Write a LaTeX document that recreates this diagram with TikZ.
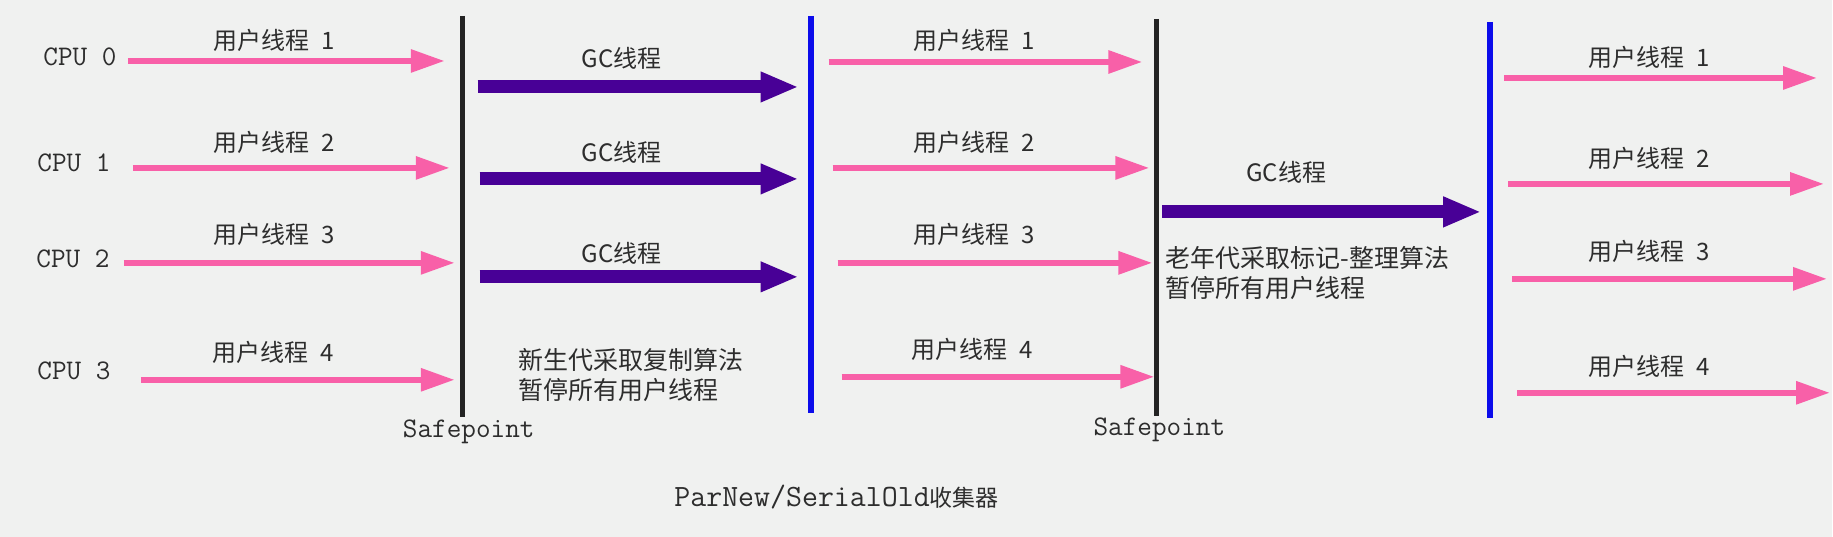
\documentclass[tikz,border=0pt]{standalone}
\usepackage{fontspec}
\newfontfamily\cjk{Noto Sans CJK SC}
\usetikzlibrary{arrows.meta}

\definecolor{paper}{RGB}{240,241,240}
\definecolor{ink}{RGB}{45,45,45}
\definecolor{userpink}{RGB}{248,96,168}
\definecolor{gcpurple}{RGB}{72,0,150}
\definecolor{resumeblue}{RGB}{12,12,235}
\definecolor{safedark}{RGB}{35,35,35}

\tikzset{
  cpulabel/.style={font=\ttfamily\fontsize{14.2}{16}\selectfont, text=ink},
  thrlabel/.style={font=\cjk\fontsize{12}{15}\selectfont, text=ink},
  notelabel/.style={font=\cjk\fontsize{12.5}{15}\selectfont, text=ink, align=left, inner sep=0pt, anchor=north west},
  userarrow/.style={draw=userpink, line width=3pt, -{Triangle[length=17pt,width=11pt,fill=userpink]}},
  gcarrow/.style={draw=gcpurple, line width=6.5pt, -{Triangle[length=19pt,width=14pt,fill=gcpurple]}},
  safeline/.style={draw=safedark, line width=2.5pt},
  resumeline/.style={draw=resumeblue, line width=3pt},
}

\begin{document}
\begin{tikzpicture}[x=0.5pt,y=-0.5pt]
    % paper
    \fill[paper] (0,0) rectangle (1833,537);

    % CPUs
    \node[cpulabel] (cpu0) at (80,57) {CPU 0};
    \node[cpulabel] (cpu1) at (74,163) {CPU 1};
    \node[cpulabel] (cpu2) at (73,259) {CPU 2};
    \node[cpulabel] (cpu3) at (74,371) {CPU 3};

    % user threads before the first safepoint
    \foreach \i/\xs/\xe/\y/\lx/\ly in {1/128/445/61/274/40, 2/133/450/168/274/142,
        3/124/455/263/274/235, 4/141/455/380/273/353} {
      \coordinate (ua\i-from) at (\xs,\y);
      \coordinate (ua\i-to) at (\xe,\y);
      \draw[userarrow] (ua\i-from) -- (ua\i-to);
      \node[thrlabel] (ua\i-lbl) at (\lx,\ly) {用户线程\enspace\i};
    }

    % first safepoint
    \coordinate (sp1-top) at (463,16);
    \coordinate (sp1-bot) at (463,417);
    \draw[safeline] (sp1-top) -- (sp1-bot);
    \node[cpulabel] (sp1-lbl) at (469,432) {Safepoint};

    % young generation GC threads
    \foreach \i/\xs/\y/\ly in {1/478/87/58, 2/480/179/152, 3/480/277/253} {
      \coordinate (gc\i-from) at (\xs,\y);
      \coordinate (gc\i-to) at (799,\y);
      \draw[gcarrow] (gc\i-from) -- (gc\i-to);
      \node[thrlabel] (gc\i-lbl) at (622,\ly) {GC线程};
    }
    \node[notelabel] (young) at (518,348) {新生代采取复制算法\\暂停所有用户线程};

    % resume after young GC
    \coordinate (rs1-top) at (811,16);
    \coordinate (rs1-bot) at (811,413);
    \draw[resumeline] (rs1-top) -- (rs1-bot);

    % user threads before the second safepoint
    \foreach \i/\xs/\xe/\y/\lx/\ly in {1/829/1143/62/975/40, 2/833/1150/168/975/142,
        3/838/1153/263/975/235, 4/842/1155/377/973/350} {
      \coordinate (ub\i-from) at (\xs,\y);
      \coordinate (ub\i-to) at (\xe,\y);
      \draw[userarrow] (ub\i-from) -- (ub\i-to);
      \node[thrlabel] (ub\i-lbl) at (\lx,\ly) {用户线程\enspace\i};
    }

    % second safepoint
    \coordinate (sp2-top) at (1157,19);
    \coordinate (sp2-bot) at (1157,416);
    \draw[safeline] (sp2-top) -- (sp2-bot);
    \node[cpulabel] (sp2-lbl) at (1160,430) {Safepoint};

    % old generation GC thread
    \coordinate (gco-from) at (1163,212);
    \coordinate (gco-to) at (1482,212);
    \draw[gcarrow] (gco-from) -- (gco-to);
    \node[thrlabel] (gco-lbl) at (1287,172) {GC线程};
    \node[notelabel] (old) at (1166,246) {老年代采取标记-整理算法\\暂停所有用户线程};

    % resume after old GC
    \coordinate (rs2-top) at (1491,22);
    \coordinate (rs2-bot) at (1491,418);
    \draw[resumeline] (rs2-top) -- (rs2-bot);

    % user threads afterwards
    \foreach \i/\xs/\xe/\y/\ly in {1/1505/1818/78/57, 2/1509/1825/184/158,
        3/1513/1828/279/252, 4/1518/1831/393/367} {
      \coordinate (uc\i-from) at (\xs,\y);
      \coordinate (uc\i-to) at (\xe,\y);
      \draw[userarrow] (uc\i-from) -- (uc\i-to);
      \node[thrlabel] (uc\i-lbl) at (1650,\ly) {用户线程\enspace\i};
    }

    % caption
    \node[text=ink, font=\ttfamily\fontsize{15.5}{17}\selectfont] (title) at (837,497)
      {ParNew/SerialOld{\cjk\fontsize{11.5}{15}\selectfont 收集器}};
\end{tikzpicture}
\end{document}
